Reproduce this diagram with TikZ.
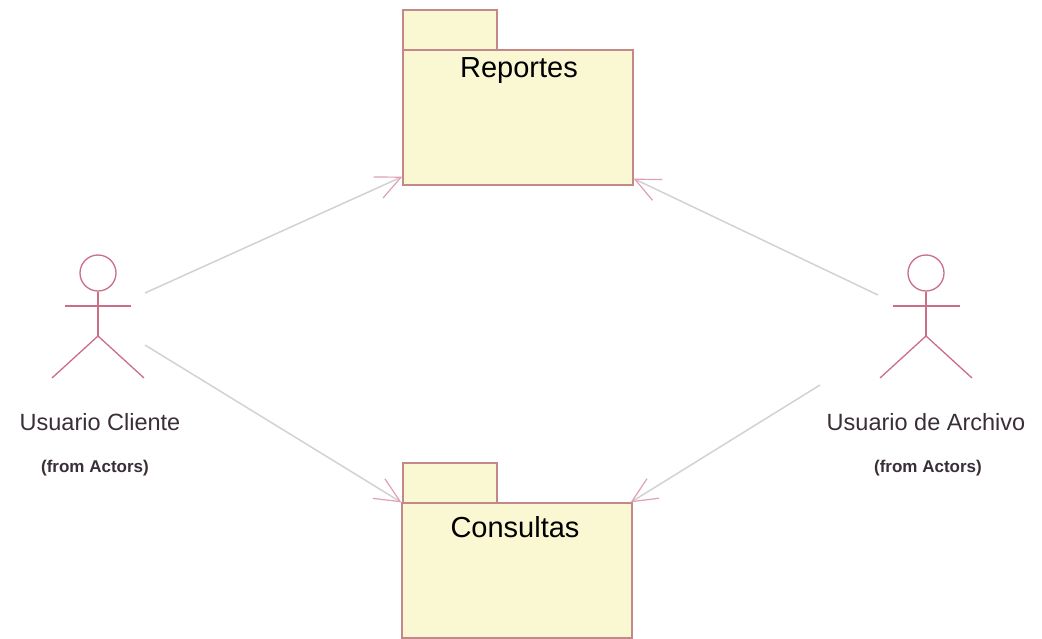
\documentclass[tikz,border=0pt]{standalone}
\usepackage{fontspec}
\setmainfont{Liberation Sans}
\usetikzlibrary{arrows.meta}
\definecolor{pkgfill}{RGB}{250,248,210}
\definecolor{pkgline}{RGB}{196,136,136}
\definecolor{actorline}{RGB}{204,110,135}
\definecolor{linkline}{RGB}{210,210,214}
\definecolor{tipline}{RGB}{224,160,180}
\definecolor{txt}{RGB}{58,46,56}
\tikzset{
  pkgbody/.style={draw=pkgline, fill=pkgfill, line width=1.2pt, minimum width=230pt, minimum height=135pt, inner sep=0pt},
  pkgtab/.style={draw=pkgline, fill=pkgfill, line width=1.2pt, minimum width=94pt, minimum height=40pt, inner sep=0pt},
  pkgname/.style={font=\fontsize{29}{32}\selectfont, text=black},
  actorname/.style={font=\fontsize{23.5}{27}\selectfont, text=txt},
  actorfrom/.style={font=\bfseries\fontsize{17}{20}\selectfont, text=txt},
  actorstroke/.style={draw=actorline, line width=1.3pt},
  link/.style={draw=linkline, line width=1.5pt,
    -{Straight Barb[length=25pt,width=23pt,line width=1.2pt,color=tipline]}},
}
\begin{document}
\begin{tikzpicture}[x=1pt,y=-1pt]
\useasboundingbox (0,0) rectangle (1042,639);
\fill[white] (0,0) rectangle (1042,639);

% Packages: tab first, then body
\node[pkgtab]  (repTab) at (450,30) {};
\node[pkgbody] (rep) at (518,117.5) {};
\node[pkgname] (repName) at (519,71) {Reportes};

\node[pkgtab]  (conTab) at (450,483) {};
\node[pkgbody] (con) at (517,570.5) {};
\node[pkgname] (conName) at (515,527) {Consultas};

% Actor: Usuario Cliente
\node[actorstroke, circle, minimum size=36pt, inner sep=0pt] (ucHead) at (98,273) {};
\coordinate (ucHip) at (98,336);
\draw[actorstroke] (ucHead.south) -- (ucHip);
\draw[actorstroke] (65,306) -- (131,306);
\draw[actorstroke] (52,378) -- (ucHip) -- (144,378);
\node[actorname] (ucName) at (100,422) {Usuario Cliente};
\node[actorfrom] (ucFrom) at (95,468) {(from Actors)};

% Actor: Usuario de Archivo
\node[actorstroke, circle, minimum size=36pt, inner sep=0pt] (uaHead) at (926,273) {};
\coordinate (uaHip) at (926,336);
\draw[actorstroke] (uaHead.south) -- (uaHip);
\draw[actorstroke] (893,306) -- (960,306);
\draw[actorstroke] (880,378) -- (uaHip) -- (972,378);
\node[actorname] (uaName) at (926,422) {Usuario de Archivo};
\node[actorfrom] (uaFrom) at (928,468) {(from Actors)};

% Connector ends
\coordinate (ucOutA) at (145,293);
\coordinate (ucOutB) at (145,345);
\coordinate (uaOutA) at (878,295);
\coordinate (uaOutB) at (820,385);
\coordinate (repIn1) at ([yshift=9pt]rep.south west);
\coordinate (repIn2) at ([yshift=7pt]rep.south east);

\draw[link] (ucOutA) -- (repIn1);
\draw[link] (uaOutA) -- (repIn2);
\draw[link] (ucOutB) -- (con.north west);
\draw[link] (uaOutB) -- ([xshift=-2pt]con.north east);
\end{tikzpicture}
\end{document}
